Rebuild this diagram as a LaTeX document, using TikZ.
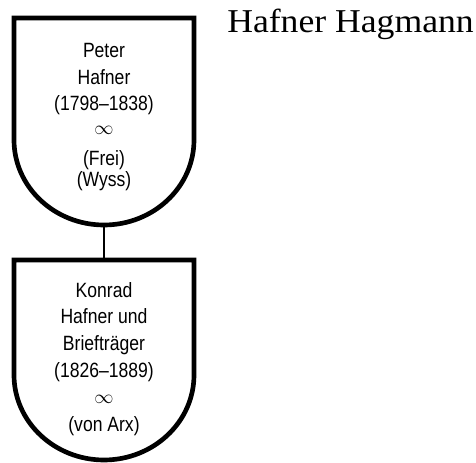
\documentclass[tikz,border=0pt]{standalone}
\usepackage{fontspec}
\setmainfont{Liberation Serif}
\newfontfamily\titlefont[FakeStretch=1.07]{Liberation Serif}
\newfontfamily\shieldfont[FakeStretch=0.85]{Liberation Sans}
\usetikzlibrary{positioning}

\begin{document}
\begin{tikzpicture}[x=0.75pt,y=-0.75pt,line join=miter,
      shield/.style={draw=black,line width=3.5pt,fill=white},
      person/.style={font=\shieldfont\fontsize{15.5}{20}\selectfont,
        align=center,inner sep=0pt,anchor=base},
      family/.style={font=\titlefont\fontsize{25}{30}\selectfont,
        anchor=base west,inner sep=0pt}]
  \useasboundingbox (0,0) rectangle (476,463);
  \draw[shield] (14,18) -- (194,18) -- (194,140)
    .. controls (194,187) and (153.5,225) .. (104,225)
    .. controls (54.5,225) and (14,187) .. (14,140) -- cycle;
  \draw[shield] (14,260) -- (194,260) -- (194,375)
    .. controls (194,422) and (153.5,460) .. (104,460)
    .. controls (54.5,460) and (14,422) .. (14,375) -- cycle;
  \coordinate (peterbot) at (104,225);
  \coordinate (konradtop) at (104,260);
  \draw[line width=1pt] (peterbot) -- (konradtop);
  \node[person] (peter) at (104,187)
    {Peter\\Hafner\\(1798–1838)\\[-2pt]$\infty$\\[3pt](Frei)\\[-4pt](Wyss)};
  \node[person] (konrad) at (104,432)
    {Konrad\\Hafner und\\Briefträger\\(1826–1889)\\$\infty$\\[1pt](von Arx)};
  \node[family] (title) at (227,33) {Hafner Hagmann};
\end{tikzpicture}
\end{document}
